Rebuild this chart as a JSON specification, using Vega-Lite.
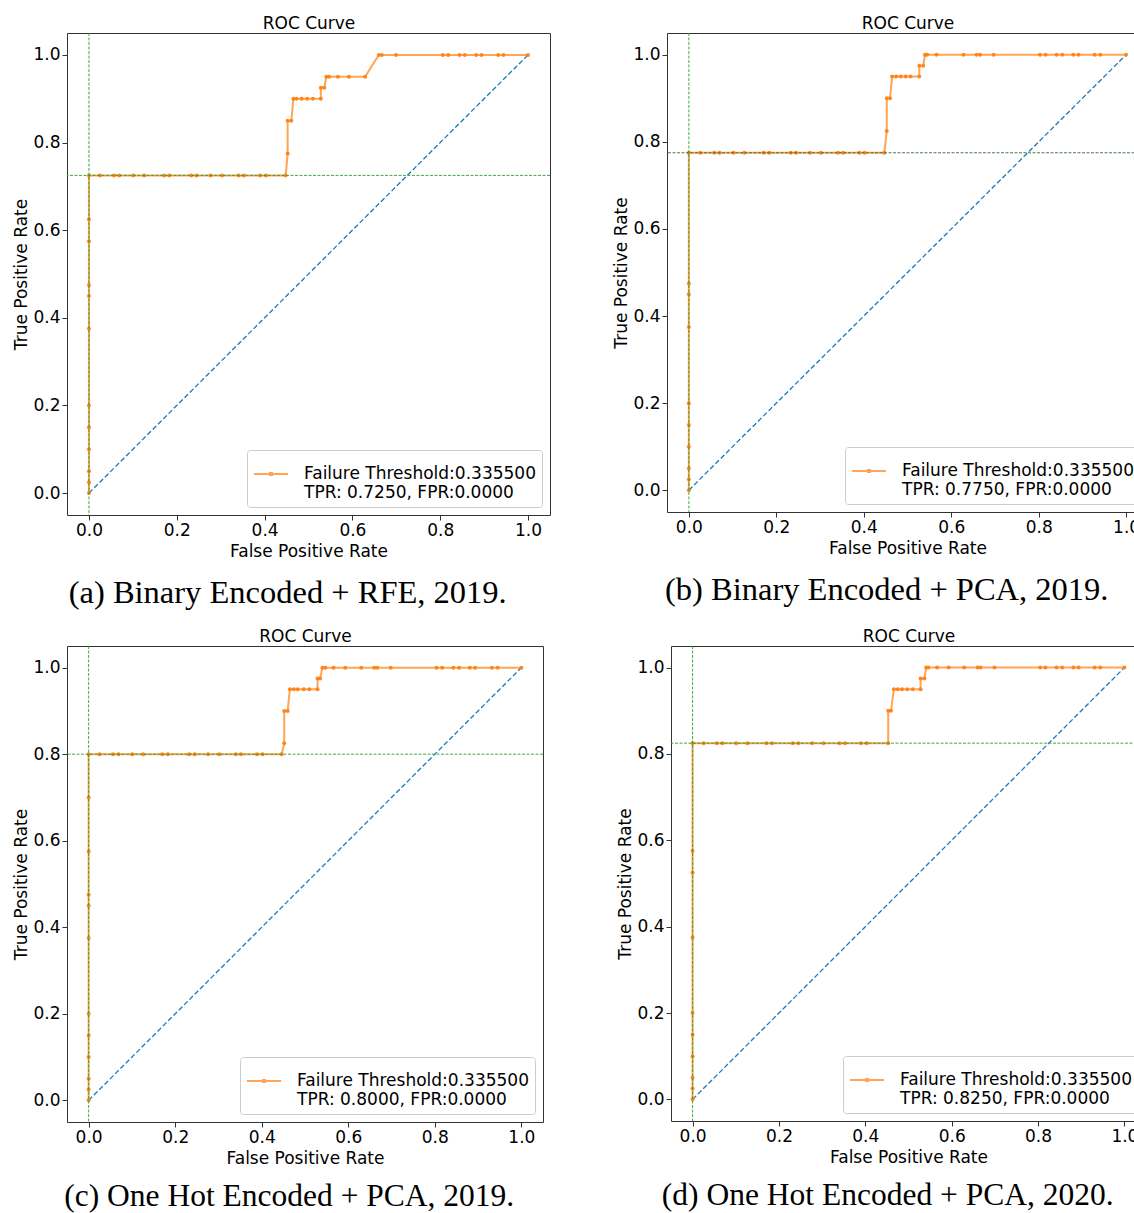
{
  "$schema": "https://vega.github.io/schema/vega-lite/v6.json",
  "padding": {"left": 12, "top": 13, "right": 0, "bottom": 0},
  "datasets": {
    "rocA": [
      {"fpr": 0, "tpr": 0}, {"fpr": 0, "tpr": 0.025}, {"fpr": 0, "tpr": 0.05}, {"fpr": 0, "tpr": 0.1}, {"fpr": 0, "tpr": 0.15}, {"fpr": 0, "tpr": 0.2}, {"fpr": 0, "tpr": 0.375}, {"fpr": 0, "tpr": 0.45}, {"fpr": 0, "tpr": 0.475}, {"fpr": 0, "tpr": 0.575}, {"fpr": 0, "tpr": 0.625}, {"fpr": 0, "tpr": 0.725},
      {"fpr": 0.025, "tpr": 0.725}, {"fpr": 0.057, "tpr": 0.725}, {"fpr": 0.069, "tpr": 0.725}, {"fpr": 0.101, "tpr": 0.725}, {"fpr": 0.126, "tpr": 0.725}, {"fpr": 0.171, "tpr": 0.725}, {"fpr": 0.183, "tpr": 0.725}, {"fpr": 0.233, "tpr": 0.725}, {"fpr": 0.245, "tpr": 0.725}, {"fpr": 0.277, "tpr": 0.725}, {"fpr": 0.303, "tpr": 0.725}, {"fpr": 0.341, "tpr": 0.725}, {"fpr": 0.353, "tpr": 0.725}, {"fpr": 0.39, "tpr": 0.725}, {"fpr": 0.403, "tpr": 0.725}, {"fpr": 0.448, "tpr": 0.725},
      {"fpr": 0.4525, "tpr": 0.775}, {"fpr": 0.4525, "tpr": 0.85}, {"fpr": 0.461, "tpr": 0.85}, {"fpr": 0.4655, "tpr": 0.9}, {"fpr": 0.473, "tpr": 0.9}, {"fpr": 0.4845, "tpr": 0.9}, {"fpr": 0.497, "tpr": 0.9}, {"fpr": 0.51, "tpr": 0.9}, {"fpr": 0.528, "tpr": 0.9}, {"fpr": 0.528, "tpr": 0.925}, {"fpr": 0.536, "tpr": 0.925}, {"fpr": 0.5405, "tpr": 0.95}, {"fpr": 0.547, "tpr": 0.95}, {"fpr": 0.567, "tpr": 0.95}, {"fpr": 0.592, "tpr": 0.95}, {"fpr": 0.629, "tpr": 0.95},
      {"fpr": 0.66, "tpr": 1}, {"fpr": 0.667, "tpr": 1}, {"fpr": 0.699, "tpr": 1}, {"fpr": 0.806, "tpr": 1}, {"fpr": 0.818, "tpr": 1}, {"fpr": 0.844, "tpr": 1}, {"fpr": 0.856, "tpr": 1}, {"fpr": 0.882, "tpr": 1}, {"fpr": 0.894, "tpr": 1}, {"fpr": 0.932, "tpr": 1}, {"fpr": 0.944, "tpr": 1}, {"fpr": 1, "tpr": 1}
    ],
    "rocB": [
      {"fpr": 0, "tpr": 0}, {"fpr": 0, "tpr": 0.025}, {"fpr": 0, "tpr": 0.05}, {"fpr": 0, "tpr": 0.1}, {"fpr": 0, "tpr": 0.15}, {"fpr": 0, "tpr": 0.2}, {"fpr": 0, "tpr": 0.375}, {"fpr": 0, "tpr": 0.45}, {"fpr": 0, "tpr": 0.475}, {"fpr": 0, "tpr": 0.775},
      {"fpr": 0.026, "tpr": 0.775}, {"fpr": 0.058, "tpr": 0.775}, {"fpr": 0.07, "tpr": 0.775}, {"fpr": 0.102, "tpr": 0.775}, {"fpr": 0.127, "tpr": 0.775}, {"fpr": 0.171, "tpr": 0.775}, {"fpr": 0.184, "tpr": 0.775}, {"fpr": 0.233, "tpr": 0.775}, {"fpr": 0.245, "tpr": 0.775}, {"fpr": 0.277, "tpr": 0.775}, {"fpr": 0.302, "tpr": 0.775}, {"fpr": 0.341, "tpr": 0.775}, {"fpr": 0.353, "tpr": 0.775}, {"fpr": 0.39, "tpr": 0.775}, {"fpr": 0.402, "tpr": 0.775}, {"fpr": 0.447, "tpr": 0.775},
      {"fpr": 0.4526, "tpr": 0.825}, {"fpr": 0.4526, "tpr": 0.9}, {"fpr": 0.46, "tpr": 0.9}, {"fpr": 0.4648, "tpr": 0.95}, {"fpr": 0.474, "tpr": 0.95}, {"fpr": 0.4846, "tpr": 0.95}, {"fpr": 0.496, "tpr": 0.95}, {"fpr": 0.507, "tpr": 0.95}, {"fpr": 0.527, "tpr": 0.95}, {"fpr": 0.527, "tpr": 0.975}, {"fpr": 0.536, "tpr": 0.975},
      {"fpr": 0.54, "tpr": 1}, {"fpr": 0.545, "tpr": 1}, {"fpr": 0.566, "tpr": 1}, {"fpr": 0.628, "tpr": 1}, {"fpr": 0.658, "tpr": 1}, {"fpr": 0.666, "tpr": 1}, {"fpr": 0.697, "tpr": 1}, {"fpr": 0.803, "tpr": 1}, {"fpr": 0.816, "tpr": 1}, {"fpr": 0.841, "tpr": 1}, {"fpr": 0.854, "tpr": 1}, {"fpr": 0.879, "tpr": 1}, {"fpr": 0.891, "tpr": 1}, {"fpr": 0.928, "tpr": 1}, {"fpr": 0.941, "tpr": 1}, {"fpr": 1, "tpr": 1}
    ],
    "rocC": [
      {"fpr": 0, "tpr": 0}, {"fpr": 0, "tpr": 0.025}, {"fpr": 0, "tpr": 0.05}, {"fpr": 0, "tpr": 0.1}, {"fpr": 0, "tpr": 0.15}, {"fpr": 0, "tpr": 0.2}, {"fpr": 0, "tpr": 0.375}, {"fpr": 0, "tpr": 0.45}, {"fpr": 0, "tpr": 0.475}, {"fpr": 0, "tpr": 0.575}, {"fpr": 0, "tpr": 0.7}, {"fpr": 0, "tpr": 0.8},
      {"fpr": 0.025, "tpr": 0.8}, {"fpr": 0.056, "tpr": 0.8}, {"fpr": 0.069, "tpr": 0.8}, {"fpr": 0.101, "tpr": 0.8}, {"fpr": 0.126, "tpr": 0.8}, {"fpr": 0.17, "tpr": 0.8}, {"fpr": 0.183, "tpr": 0.8}, {"fpr": 0.232, "tpr": 0.8}, {"fpr": 0.245, "tpr": 0.8}, {"fpr": 0.276, "tpr": 0.8}, {"fpr": 0.302, "tpr": 0.8}, {"fpr": 0.34, "tpr": 0.8}, {"fpr": 0.352, "tpr": 0.8}, {"fpr": 0.389, "tpr": 0.8}, {"fpr": 0.402, "tpr": 0.8}, {"fpr": 0.446, "tpr": 0.8},
      {"fpr": 0.452, "tpr": 0.825}, {"fpr": 0.452, "tpr": 0.9}, {"fpr": 0.46, "tpr": 0.9}, {"fpr": 0.465, "tpr": 0.95}, {"fpr": 0.474, "tpr": 0.95}, {"fpr": 0.483, "tpr": 0.95}, {"fpr": 0.497, "tpr": 0.95}, {"fpr": 0.51, "tpr": 0.95}, {"fpr": 0.529, "tpr": 0.95}, {"fpr": 0.529, "tpr": 0.975}, {"fpr": 0.535, "tpr": 0.975},
      {"fpr": 0.54, "tpr": 1}, {"fpr": 0.547, "tpr": 1}, {"fpr": 0.566, "tpr": 1}, {"fpr": 0.593, "tpr": 1}, {"fpr": 0.63, "tpr": 1}, {"fpr": 0.66, "tpr": 1}, {"fpr": 0.667, "tpr": 1}, {"fpr": 0.698, "tpr": 1}, {"fpr": 0.804, "tpr": 1}, {"fpr": 0.817, "tpr": 1}, {"fpr": 0.843, "tpr": 1}, {"fpr": 0.856, "tpr": 1}, {"fpr": 0.881, "tpr": 1}, {"fpr": 0.893, "tpr": 1}, {"fpr": 0.932, "tpr": 1}, {"fpr": 0.945, "tpr": 1}, {"fpr": 1, "tpr": 1}
    ],
    "rocD": [
      {"fpr": 0, "tpr": 0}, {"fpr": 0, "tpr": 0.025}, {"fpr": 0, "tpr": 0.05}, {"fpr": 0, "tpr": 0.1}, {"fpr": 0, "tpr": 0.15}, {"fpr": 0, "tpr": 0.2}, {"fpr": 0, "tpr": 0.375}, {"fpr": 0, "tpr": 0.525}, {"fpr": 0, "tpr": 0.575}, {"fpr": 0, "tpr": 0.825},
      {"fpr": 0.0255, "tpr": 0.825}, {"fpr": 0.056, "tpr": 0.825}, {"fpr": 0.069, "tpr": 0.825}, {"fpr": 0.101, "tpr": 0.825}, {"fpr": 0.127, "tpr": 0.825}, {"fpr": 0.171, "tpr": 0.825}, {"fpr": 0.184, "tpr": 0.825}, {"fpr": 0.232, "tpr": 0.825}, {"fpr": 0.245, "tpr": 0.825}, {"fpr": 0.277, "tpr": 0.825}, {"fpr": 0.303, "tpr": 0.825}, {"fpr": 0.34, "tpr": 0.825}, {"fpr": 0.353, "tpr": 0.825}, {"fpr": 0.39, "tpr": 0.825}, {"fpr": 0.403, "tpr": 0.825}, {"fpr": 0.453, "tpr": 0.825},
      {"fpr": 0.453, "tpr": 0.9}, {"fpr": 0.4595, "tpr": 0.9}, {"fpr": 0.466, "tpr": 0.95}, {"fpr": 0.475, "tpr": 0.95}, {"fpr": 0.485, "tpr": 0.95}, {"fpr": 0.497, "tpr": 0.95}, {"fpr": 0.51, "tpr": 0.95}, {"fpr": 0.528, "tpr": 0.95}, {"fpr": 0.528, "tpr": 0.975}, {"fpr": 0.537, "tpr": 0.975},
      {"fpr": 0.541, "tpr": 1}, {"fpr": 0.546, "tpr": 1}, {"fpr": 0.566, "tpr": 1}, {"fpr": 0.593, "tpr": 1}, {"fpr": 0.629, "tpr": 1}, {"fpr": 0.66, "tpr": 1}, {"fpr": 0.667, "tpr": 1}, {"fpr": 0.699, "tpr": 1}, {"fpr": 0.805, "tpr": 1}, {"fpr": 0.817, "tpr": 1}, {"fpr": 0.843, "tpr": 1}, {"fpr": 0.856, "tpr": 1}, {"fpr": 0.882, "tpr": 1}, {"fpr": 0.894, "tpr": 1}, {"fpr": 0.931, "tpr": 1}, {"fpr": 0.944, "tpr": 1}, {"fpr": 1, "tpr": 1}
    ]
  },
  "config": {
    "font": "DejaVu Sans",
    "view": {"stroke": "#333333", "strokeWidth": 1},
    "axis": {"grid": false, "domain": false, "tickColor": "#333333", "tickSize": 5, "tickWidth": 1, "labelFontSize": 17, "labelColor": "black", "labelFont": "DejaVu Sans", "labelPadding": 2, "titleFontSize": 17, "titleFontWeight": "normal", "titleColor": "black", "titleFont": "DejaVu Sans", "titlePadding": 5},
    "axisY": {"titlePadding": 2},
    "title": {"font": "Liberation Serif", "fontSize": 32.5, "fontWeight": "normal", "orient": "bottom", "offset": 18, "color": "black", "frame": "bounds", "anchor": "middle", "dx": 6},
    "legend": {"labelFontSize": 17, "labelFont": "DejaVu Sans", "labelColor": "black", "fillColor": "white", "strokeColor": "#cccccc", "padding": 6, "cornerRadius": 3, "labelLimit": 600, "labelOffset": 15, "symbolType": "M-1,0H1M-0.07,-0.07H0.07V0.07H-0.07Z", "symbolSize": 1156, "symbolStrokeWidth": 1.8, "orient": "bottom-right", "offset": 8}
  },
  "resolve": {"scale": {"color": "independent"}},
  "spacing": 16,
  "vconcat": [
    {
      "resolve": {"scale": {"color": "independent"}},
      "spacing": 61,
      "hconcat": [
        {
          "width": 483, "height": 482,
          "title": {"text": "(a) Binary Encoded + RFE, 2019."},
          "resolve": {"axis": {"x": "independent", "y": "independent"}},
          "layer": [
            {"data": {"values": [{}]}, "mark": {"type": "rule", "color": "#1f77b4", "strokeDash": [5, 2.5], "strokeWidth": 1.3},
             "encoding": {"x": {"datum": 0, "type": "quantitative", "scale": {"domain": [-0.05, 1.05], "nice": false, "zero": false}, "axis": null}, "y": {"datum": 0, "type": "quantitative", "scale": {"domain": [-0.05, 1.05], "nice": false, "zero": false}, "axis": null}, "x2": {"datum": 1}, "y2": {"datum": 1}}},
            {"data": {"name": "rocA"}, "mark": {"type": "line", "color": "#ff7f0e", "strokeWidth": 2, "opacity": 0.7},
             "encoding": {"x": {"field": "fpr", "type": "quantitative", "scale": {"domain": [-0.05, 1.05], "nice": false, "zero": false}, "axis": {"title": "False Positive Rate", "values": [0, 0.2, 0.4, 0.6, 0.8, 1.0], "format": ".1f"}},
                          "y": {"field": "tpr", "type": "quantitative", "scale": {"domain": [-0.05, 1.05], "nice": false, "zero": false}, "axis": {"title": "True Positive Rate", "values": [0, 0.2, 0.4, 0.6, 0.8, 1.0], "format": ".1f"}},
                          "order": [{"field": "fpr"}, {"field": "tpr"}],
                          "color": {"datum": "Failure Threshold:0.335500|TPR: 0.7250, FPR:0.0000", "type": "nominal", "scale": {"range": ["#ff7f0e"]}, "legend": {"title": null, "labelExpr": "split(datum.label, '|')", "encode": {"symbols": {"fill": {"value": "#ff7f0e"}, "stroke": {"value": "#ff7f0e"}, "opacity": {"value": 0.85}}, "labels": {"lineHeight": {"value": 21}}}}}}},
            {"data": {"name": "rocA"}, "mark": {"type": "point", "filled": true, "size": 16, "opacity": 0.9, "strokeWidth": 0},
             "encoding": {"x": {"field": "fpr", "type": "quantitative", "scale": {"domain": [-0.05, 1.05], "nice": false, "zero": false}, "axis": null},
                          "y": {"field": "tpr", "type": "quantitative", "scale": {"domain": [-0.05, 1.05], "nice": false, "zero": false}, "axis": null},
                          "color": {"datum": "Failure Threshold:0.335500|TPR: 0.7250, FPR:0.0000", "type": "nominal"}}},
            {"data": {"values": [{}]}, "mark": {"type": "rule", "color": "#2ca02c", "strokeDash": [3, 1.5], "strokeWidth": 0.9},
             "encoding": {"y": {"datum": 0.725, "type": "quantitative", "scale": {"domain": [-0.05, 1.05], "nice": false, "zero": false}, "axis": null}}},
            {"data": {"values": [{}]}, "mark": {"type": "rule", "color": "#2ca02c", "strokeDash": [3, 1.5], "strokeWidth": 0.9},
             "encoding": {"x": {"datum": 0, "type": "quantitative", "scale": {"domain": [-0.05, 1.05], "nice": false, "zero": false}, "axis": {"orient": "top", "title": "ROC Curve", "labels": false, "ticks": false, "domain": false, "titlePadding": 1}}}}
          ]
        },
        {
          "width": 481, "height": 479,
          "title": {"text": "(b) Binary Encoded + PCA, 2019."},
          "resolve": {"axis": {"x": "independent", "y": "independent"}},
          "layer": [
            {"data": {"values": [{}]}, "mark": {"type": "rule", "color": "#1f77b4", "strokeDash": [5, 2.5], "strokeWidth": 1.3},
             "encoding": {"x": {"datum": 0, "type": "quantitative", "scale": {"domain": [-0.05, 1.05], "nice": false, "zero": false}, "axis": null}, "y": {"datum": 0, "type": "quantitative", "scale": {"domain": [-0.05, 1.05], "nice": false, "zero": false}, "axis": null}, "x2": {"datum": 1}, "y2": {"datum": 1}}},
            {"data": {"name": "rocB"}, "mark": {"type": "line", "color": "#ff7f0e", "strokeWidth": 2, "opacity": 0.7},
             "encoding": {"x": {"field": "fpr", "type": "quantitative", "scale": {"domain": [-0.05, 1.05], "nice": false, "zero": false}, "axis": {"title": "False Positive Rate", "values": [0, 0.2, 0.4, 0.6, 0.8, 1.0], "format": ".1f"}},
                          "y": {"field": "tpr", "type": "quantitative", "scale": {"domain": [-0.05, 1.05], "nice": false, "zero": false}, "axis": {"title": "True Positive Rate", "values": [0, 0.2, 0.4, 0.6, 0.8, 1.0], "format": ".1f"}},
                          "order": [{"field": "fpr"}, {"field": "tpr"}],
                          "color": {"datum": "Failure Threshold:0.335500|TPR: 0.7750, FPR:0.0000", "type": "nominal", "scale": {"range": ["#ff7f0e"]}, "legend": {"title": null, "labelExpr": "split(datum.label, '|')", "encode": {"symbols": {"fill": {"value": "#ff7f0e"}, "stroke": {"value": "#ff7f0e"}, "opacity": {"value": 0.85}}, "labels": {"lineHeight": {"value": 21}}}}}}},
            {"data": {"name": "rocB"}, "mark": {"type": "point", "filled": true, "size": 16, "opacity": 0.9, "strokeWidth": 0},
             "encoding": {"x": {"field": "fpr", "type": "quantitative", "scale": {"domain": [-0.05, 1.05], "nice": false, "zero": false}, "axis": null},
                          "y": {"field": "tpr", "type": "quantitative", "scale": {"domain": [-0.05, 1.05], "nice": false, "zero": false}, "axis": null},
                          "color": {"datum": "Failure Threshold:0.335500|TPR: 0.7750, FPR:0.0000", "type": "nominal"}}},
            {"data": {"values": [{}]}, "mark": {"type": "rule", "color": "#3a6b3a", "strokeDash": [3, 1.5], "strokeWidth": 0.9},
             "encoding": {"y": {"datum": 0.775, "type": "quantitative", "scale": {"domain": [-0.05, 1.05], "nice": false, "zero": false}, "axis": null}}},
            {"data": {"values": [{}]}, "mark": {"type": "rule", "color": "#2ca02c", "strokeDash": [3, 1.5], "strokeWidth": 0.9},
             "encoding": {"x": {"datum": 0, "type": "quantitative", "scale": {"domain": [-0.05, 1.05], "nice": false, "zero": false}, "axis": {"orient": "top", "title": "ROC Curve", "labels": false, "ticks": false, "domain": false, "titlePadding": 1}}}}
          ]
        }
      ]
    },
    {
      "resolve": {"scale": {"color": "independent"}},
      "spacing": 72,
      "hconcat": [
        {
          "width": 476, "height": 476,
          "title": {"text": "(c) One Hot Encoded + PCA, 2019.", "dx": 11, "fontSize": 31.5, "offset": 15},
          "resolve": {"axis": {"x": "independent", "y": "independent"}},
          "layer": [
            {"data": {"values": [{}]}, "mark": {"type": "rule", "color": "#1f77b4", "strokeDash": [5, 2.5], "strokeWidth": 1.3},
             "encoding": {"x": {"datum": 0, "type": "quantitative", "scale": {"domain": [-0.05, 1.05], "nice": false, "zero": false}, "axis": null}, "y": {"datum": 0, "type": "quantitative", "scale": {"domain": [-0.05, 1.05], "nice": false, "zero": false}, "axis": null}, "x2": {"datum": 1}, "y2": {"datum": 1}}},
            {"data": {"name": "rocC"}, "mark": {"type": "line", "color": "#ff7f0e", "strokeWidth": 2, "opacity": 0.7},
             "encoding": {"x": {"field": "fpr", "type": "quantitative", "scale": {"domain": [-0.05, 1.05], "nice": false, "zero": false}, "axis": {"title": "False Positive Rate", "values": [0, 0.2, 0.4, 0.6, 0.8, 1.0], "format": ".1f"}},
                          "y": {"field": "tpr", "type": "quantitative", "scale": {"domain": [-0.05, 1.05], "nice": false, "zero": false}, "axis": {"title": "True Positive Rate", "values": [0, 0.2, 0.4, 0.6, 0.8, 1.0], "format": ".1f"}},
                          "order": [{"field": "fpr"}, {"field": "tpr"}],
                          "color": {"datum": "Failure Threshold:0.335500|TPR: 0.8000, FPR:0.0000", "type": "nominal", "scale": {"range": ["#ff7f0e"]}, "legend": {"title": null, "labelExpr": "split(datum.label, '|')", "encode": {"symbols": {"fill": {"value": "#ff7f0e"}, "stroke": {"value": "#ff7f0e"}, "opacity": {"value": 0.85}}, "labels": {"lineHeight": {"value": 21}}}}}}},
            {"data": {"name": "rocC"}, "mark": {"type": "point", "filled": true, "size": 16, "opacity": 0.9, "strokeWidth": 0},
             "encoding": {"x": {"field": "fpr", "type": "quantitative", "scale": {"domain": [-0.05, 1.05], "nice": false, "zero": false}, "axis": null},
                          "y": {"field": "tpr", "type": "quantitative", "scale": {"domain": [-0.05, 1.05], "nice": false, "zero": false}, "axis": null},
                          "color": {"datum": "Failure Threshold:0.335500|TPR: 0.8000, FPR:0.0000", "type": "nominal"}}},
            {"data": {"values": [{}]}, "mark": {"type": "rule", "color": "#2ca02c", "strokeDash": [3, 1.5], "strokeWidth": 0.9},
             "encoding": {"y": {"datum": 0.8, "type": "quantitative", "scale": {"domain": [-0.05, 1.05], "nice": false, "zero": false}, "axis": null}}},
            {"data": {"values": [{}]}, "mark": {"type": "rule", "color": "#2ca02c", "strokeDash": [3, 1.5], "strokeWidth": 0.9},
             "encoding": {"x": {"datum": 0, "type": "quantitative", "scale": {"domain": [-0.05, 1.05], "nice": false, "zero": false}, "axis": {"orient": "top", "title": "ROC Curve", "labels": false, "ticks": false, "domain": false, "titlePadding": 1}}}}
          ]
        },
        {
          "width": 475, "height": 475,
          "title": {"text": "(d) One Hot Encoded + PCA, 2020.", "fontSize": 31.5, "offset": 15},
          "resolve": {"axis": {"x": "independent", "y": "independent"}},
          "layer": [
            {"data": {"values": [{}]}, "mark": {"type": "rule", "color": "#1f77b4", "strokeDash": [5, 2.5], "strokeWidth": 1.3},
             "encoding": {"x": {"datum": 0, "type": "quantitative", "scale": {"domain": [-0.05, 1.05], "nice": false, "zero": false}, "axis": null}, "y": {"datum": 0, "type": "quantitative", "scale": {"domain": [-0.05, 1.05], "nice": false, "zero": false}, "axis": null}, "x2": {"datum": 1}, "y2": {"datum": 1}}},
            {"data": {"name": "rocD"}, "mark": {"type": "line", "color": "#ff7f0e", "strokeWidth": 2, "opacity": 0.7},
             "encoding": {"x": {"field": "fpr", "type": "quantitative", "scale": {"domain": [-0.05, 1.05], "nice": false, "zero": false}, "axis": {"title": "False Positive Rate", "values": [0, 0.2, 0.4, 0.6, 0.8, 1.0], "format": ".1f"}},
                          "y": {"field": "tpr", "type": "quantitative", "scale": {"domain": [-0.05, 1.05], "nice": false, "zero": false}, "axis": {"title": "True Positive Rate", "values": [0, 0.2, 0.4, 0.6, 0.8, 1.0], "format": ".1f"}},
                          "order": [{"field": "fpr"}, {"field": "tpr"}],
                          "color": {"datum": "Failure Threshold:0.335500|TPR: 0.8250, FPR:0.0000", "type": "nominal", "scale": {"range": ["#ff7f0e"]}, "legend": {"title": null, "labelExpr": "split(datum.label, '|')", "encode": {"symbols": {"fill": {"value": "#ff7f0e"}, "stroke": {"value": "#ff7f0e"}, "opacity": {"value": 0.85}}, "labels": {"lineHeight": {"value": 21}}}}}}},
            {"data": {"name": "rocD"}, "mark": {"type": "point", "filled": true, "size": 16, "opacity": 0.9, "strokeWidth": 0},
             "encoding": {"x": {"field": "fpr", "type": "quantitative", "scale": {"domain": [-0.05, 1.05], "nice": false, "zero": false}, "axis": null},
                          "y": {"field": "tpr", "type": "quantitative", "scale": {"domain": [-0.05, 1.05], "nice": false, "zero": false}, "axis": null},
                          "color": {"datum": "Failure Threshold:0.335500|TPR: 0.8250, FPR:0.0000", "type": "nominal"}}},
            {"data": {"values": [{}]}, "mark": {"type": "rule", "color": "#2ca02c", "strokeDash": [3, 1.5], "strokeWidth": 0.9},
             "encoding": {"y": {"datum": 0.825, "type": "quantitative", "scale": {"domain": [-0.05, 1.05], "nice": false, "zero": false}, "axis": null}}},
            {"data": {"values": [{}]}, "mark": {"type": "rule", "color": "#2ca02c", "strokeDash": [3, 1.5], "strokeWidth": 0.9},
             "encoding": {"x": {"datum": 0, "type": "quantitative", "scale": {"domain": [-0.05, 1.05], "nice": false, "zero": false}, "axis": {"orient": "top", "title": "ROC Curve", "labels": false, "ticks": false, "domain": false, "titlePadding": 1}}}}
          ]
        }
      ]
    }
  ]
}
